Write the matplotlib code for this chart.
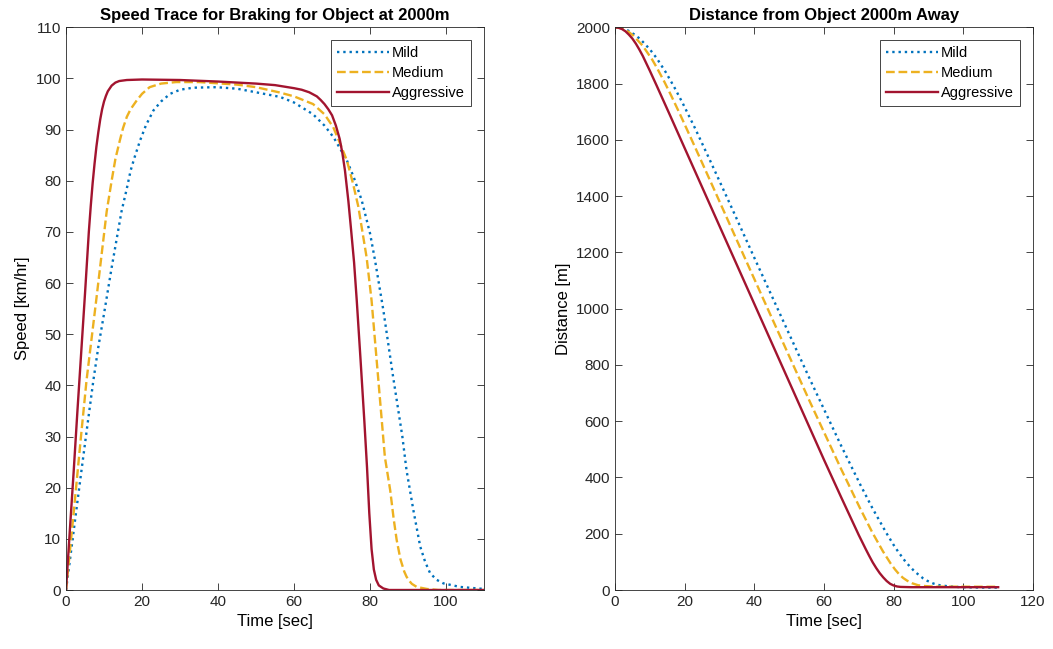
import matplotlib
matplotlib.use("Agg")
import matplotlib.pyplot as plt

# speed traces [km/hr]
t_mild = [0, 1, 2, 4, 5.5, 7.2, 8.5, 10, 12, 13.3, 14.6, 16, 17, 18, 19.5, 21, 23, 25, 27.4, 30, 33.5,
          39.6, 45, 50, 56.3, 60, 65, 68, 70.4, 73.9, 75.8, 77.8, 80, 81.3, 83.5, 86, 88.5, 89.6, 91.4,
          93.2, 94.5, 95.8, 97.5, 99.3, 103.7, 110]
v_mild = [0, 5.7, 11.5, 23, 31.5, 41, 47.5, 54, 63, 68.5, 74, 78.5, 82, 84.5, 87.9, 90.8, 93.75, 95.5,
          97, 97.8, 98.2, 98.3, 98, 97.3, 96.4, 95.3, 93, 90.8, 88.5, 84, 80.5, 76.2, 69.7, 64.5, 54.7,
          42, 30, 23.4, 15.6, 8.5, 5.5, 3.3, 2, 1.3, 0.6, 0.2]

t_medium = [0, 2, 4, 5.4, 8, 10.7, 12, 13, 14.2, 15, 16, 17, 18.6, 20, 22, 25, 29, 35, 45, 50, 56, 60,
            65, 68, 70.3, 72, 73.9, 75.5, 76.9, 78, 79.1, 80.4, 81.5, 82.7, 83.9, 85.3, 86.2, 87, 88, 89,
            89.6, 90.3, 91, 92.3, 95, 98, 110]
v_medium = [0, 15, 30.5, 41, 57, 74, 80, 84.3, 88, 90.3, 92.5, 94, 95.7, 97, 98.3, 99, 99.3, 99.3, 98.8,
            98.3, 97.3, 96.5, 95, 93, 90.5, 87.5, 84, 79.5, 75, 70, 65, 56.6, 47, 36.5, 26, 19.5, 14,
            9.8, 6, 3.6, 2.6, 1.8, 1.2, 0.6, 0.2, 0, 0]

t_aggr = [0, 1, 2, 3, 4, 5, 6, 6.5, 7, 7.5, 8, 8.5, 9, 9.5, 10, 10.5, 11, 12, 13, 14, 16, 20, 30, 40, 50,
          55, 60, 62, 64, 66, 67, 68, 69, 70, 71, 72, 72.7, 73.4, 74.3, 75, 75.8, 76.5, 77.5, 78.5, 79.2,
          79.8, 80.4, 81, 81.6, 82.3, 83.5, 85, 110]
v_aggr = [0, 11.6, 23, 35, 46.5, 58, 70, 75, 79.5, 83.3, 86.7, 89.5, 92, 94, 95.5, 96.6, 97.5, 98.6,
          99.2, 99.5, 99.7, 99.8, 99.7, 99.4, 99, 98.7, 98.1, 97.8, 97.3, 96.5, 95.8, 95, 94, 92.8, 90.8,
          88.2, 85.5, 82, 76, 70.5, 64, 56.6, 45, 33, 24, 15, 8, 4, 2, 0.9, 0.3, 0, 0]

# distance to object [m]
td_mild = [0, 1, 2, 3, 4, 5.5, 7.2, 10, 12, 14.6, 17, 19.5, 23, 27.4, 33.5, 39.6, 50, 56.3, 65, 70.4,
           73.9, 77.8, 80, 81.3, 83.5, 86, 88.5, 89.6, 91.4, 93.2, 95.8, 99.3, 103.7, 110]
d_mild = [2000, 1999.2, 1997, 1993, 1987, 1975, 1959, 1922, 1890, 1840, 1788, 1729, 1641, 1524, 1359,
          1192, 910, 740, 511, 375, 291, 205, 160, 136, 99, 66, 41, 33, 23, 17, 13, 10, 9, 8.5]

td_medium = [0, 1, 2, 3, 4, 5.4, 8, 10.7, 12, 14.2, 16, 18.6, 22, 25, 29, 35, 45, 56, 65, 70.3, 73.9,
             76.9, 79.1, 80.4, 81.5, 82.7, 83.9, 85.3, 87, 89, 92, 110]
d_medium = [2000, 1999, 1996, 1990.5, 1983, 1969, 1934, 1885, 1857, 1806, 1761, 1693, 1601, 1519, 1409,
            1243, 968, 668, 428, 292, 204, 138, 95, 73, 57, 43, 33, 24, 17, 14, 12, 11.5]

td_aggr = [0, 1, 2, 3, 4, 5, 6, 7, 8, 9, 10, 12, 16, 20, 30, 40, 50, 60, 65, 70, 71, 72, 73, 74, 75, 76,
           77, 78, 79, 80, 81, 82, 85, 110]
d_aggr = [2000, 1998.4, 1994, 1986, 1974, 1960, 1942, 1921, 1898, 1872, 1846, 1792, 1682, 1571, 1294,
          1017, 740, 463, 328, 195, 170, 145, 121, 98, 78, 60, 45, 32, 22, 16, 12.5, 11, 10, 10]

labels = ["Mild", "Medium", "Aggressive"]
colors = ["#0072BD", "#EDB120", "#A2142F"]
styles = [":", "--", "-"]

plt.rcParams["font.family"] = ["Liberation Sans", "DejaVu Sans"]
plt.rcParams["axes.edgecolor"] = "#262626"
plt.rcParams["xtick.color"] = "#262626"
plt.rcParams["ytick.color"] = "#262626"

fig = plt.figure(figsize=(10.53, 6.49), dpi=100)
ax1 = fig.add_axes([0.0627, 0.0909, 0.397, 0.867])
ax2 = fig.add_axes([0.584, 0.0909, 0.397, 0.867])

speed = [(t_mild, v_mild), (t_medium, v_medium), (t_aggr, v_aggr)]
dist = [(td_mild, d_mild), (td_medium, d_medium), (td_aggr, d_aggr)]

for (t, v), lab, c, ls in zip(speed, labels, colors, styles):
    ax1.plot(t, v, ls, color=c, lw=1.7, label=lab)
for (t, d), lab, c, ls in zip(dist, labels, colors, styles):
    ax2.plot(t, d, ls, color=c, lw=1.7, label=lab)

ax1.set_xlim(0, 110)
ax1.set_ylim(0, 110)
ax1.set_xticks(range(0, 101, 20))
ax1.set_yticks(range(0, 111, 10))
ax1.set_xlabel("Time [sec]", fontsize=12)
ax1.set_ylabel("Speed [km/hr]", fontsize=12)
ax1.set_title("Speed Trace for Braking for Object at 2000m", fontsize=12, fontweight="bold", pad=5)

ax2.set_xlim(0, 120)
ax2.set_ylim(0, 2000)
ax2.set_xticks(range(0, 121, 20))
ax2.set_yticks(range(0, 2001, 200))
ax2.set_xlabel("Time [sec]", fontsize=12)
ax2.set_ylabel("Distance [m]", fontsize=12)
ax2.set_title("Distance from Object 2000m Away", fontsize=12, fontweight="bold", pad=5)

for ax in (ax1, ax2):
    ax.tick_params(direction="in", top=True, right=True, labelsize=11, length=5, width=0.6)
    for s in ax.spines.values():
        s.set_linewidth(0.6)
    leg = ax.legend(loc="upper right", fontsize=10.5, fancybox=False, framealpha=1,
                    edgecolor="#262626", handlelength=3.6, borderaxespad=0.9,
                    labelspacing=0.4, handletextpad=0.2, borderpad=0.4)
    leg.get_frame().set_linewidth(0.6)

fig.savefig("out.png", dpi=100)
